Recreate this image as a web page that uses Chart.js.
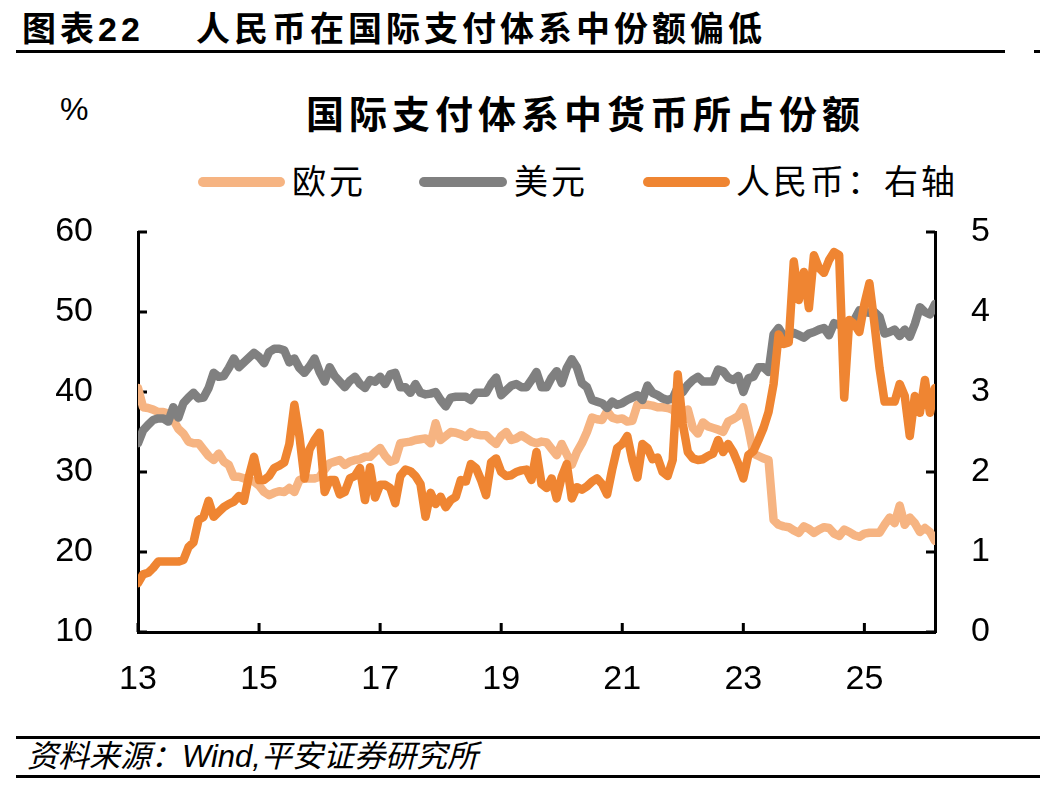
<!DOCTYPE html>
<html>
<head>
<meta charset="utf-8">
<script src="https://cdn.jsdelivr.net/npm/chart.js@4.4.1/dist/chart.umd.min.js"></script>
<style>
  html, body { margin: 0; padding: 0; background: #fff; }
  #wrap { position: relative; width: 1040px; height: 787px; overflow: hidden;
          font-family: "Liberation Sans", "Noto Sans CJK SC", sans-serif; color: #000; }
  #wrap canvas { position: absolute; left: 0; top: 0; }
  .txt { position: absolute; white-space: nowrap; line-height: 1; }
  .rule { position: absolute; height: 3px; background: #000; }
  .key { position: absolute; top: 177px; height: 10px; border-radius: 5px; }
</style>
</head>
<body>
<div id="wrap">
  <div class="txt" style="left:22px;top:12px;font-size:34px;font-weight:bold;letter-spacing:4px;">图表22</div>
  <div class="txt" style="left:196px;top:12px;font-size:34px;font-weight:bold;letter-spacing:4px;">人民币在国际支付体系中份额偏低</div>
  <div class="rule" style="left:16px;top:50px;width:989px;"></div>
  <div class="rule" style="left:1034px;top:50px;width:6px;"></div>

  <div class="txt" style="left:60px;top:93px;font-size:32px;">%</div>
  <div class="txt" style="left:306px;top:96px;font-size:38px;font-weight:bold;letter-spacing:5px;">国际支付体系中货币所占份额</div>

  <div class="key" style="left:198px;width:87px;background:#F6B482;"></div>
  <div class="txt" style="left:292px;top:165px;font-size:34px;letter-spacing:3px;">欧元</div>
  <div class="key" style="left:419px;width:88px;background:#808080;"></div>
  <div class="txt" style="left:514px;top:165px;font-size:34px;letter-spacing:3px;">美元</div>
  <div class="key" style="left:643px;width:87px;background:#EF8532;"></div>
  <div class="txt" style="left:736px;top:165px;font-size:34px;letter-spacing:3px;">人民币：右轴</div>

  <div class="rule" style="left:16px;top:736px;width:1024px;"></div>
  <div class="txt" style="left:27px;top:741px;font-size:31px;font-style:italic;">资料来源：Wind,平安证券研究所</div>
  <div class="rule" style="left:16px;top:775px;width:1024px;"></div>

  <canvas id="c" width="1040" height="787"></canvas>
</div>
<script>
// monthly data, first point = Jan 2013 (year shown as two digits)
const startYear = 13;

const eur = [
  40.5, 38.1, 38.0, 37.8, 37.5, 37.5, 37.3, 36.5, 35.4, 34.8,
  33.8, 33.6, 33.6, 32.8, 32.0, 31.5, 32.3, 31.3, 30.9, 29.4,
  29.4, 29.2, 29.0, 28.8, 28.3, 27.5, 27.1, 27.4, 27.6, 27.5,
  28.0, 27.5, 29.0, 29.2, 29.2, 29.2, 29.4, 30.3, 31.1, 31.3,
  31.5, 30.9, 31.3, 31.5, 31.6, 31.9, 31.9, 32.5, 33.0, 32.0,
  31.3, 31.5, 33.6, 33.7, 33.8, 34.0, 34.1, 34.2, 33.6, 36.1,
  34.0, 34.5, 35.0, 34.9, 34.7, 34.4, 35.0, 34.7, 34.6, 34.6,
  34.0, 33.5, 34.5, 35.0, 34.0, 34.2, 34.6, 34.2, 33.8, 33.6,
  33.8, 33.7, 32.9, 32.1, 33.5, 32.2, 30.9, 32.5, 33.6, 35.0,
  36.8, 36.6, 36.5, 37.6, 36.8, 36.6, 36.7, 36.3, 36.4, 38.4,
  38.4, 38.4, 38.3, 38.1, 38.1, 38.0, 37.8, 37.0, 37.5, 37.8,
  35.5, 34.8, 36.2, 35.7, 35.5, 35.3, 35.0, 36.3, 36.6, 37.0,
  38.1, 35.5, 32.3, 32.0, 31.7, 31.5, 24.0, 23.4, 23.2, 23.1,
  22.7, 22.4, 23.2, 22.9, 22.4, 22.8, 23.1, 23.0, 22.3, 22.0,
  22.8, 22.5, 22.1, 21.9, 22.3, 22.4, 22.4, 22.4, 23.4, 24.3,
  23.6, 25.8, 23.4, 24.3, 23.6, 22.5, 23.0, 22.5, 21.4
];

const usd = [
  33.6, 35.2, 35.9, 36.5, 36.7, 36.7, 36.3, 38.1, 36.8, 38.6,
  39.3, 39.9, 39.2, 39.3, 40.5, 42.4, 41.9, 42.0, 43.0, 44.2,
  43.1, 43.7, 44.3, 44.9, 44.4, 43.6, 45.0, 45.4, 45.4, 45.2,
  43.7, 44.2, 43.0, 42.4, 43.2, 44.2, 42.5, 41.3, 43.1, 42.0,
  41.3, 40.6, 41.4, 41.9, 41.0, 40.5, 41.5, 41.3, 41.9, 41.0,
  42.2, 42.4, 40.6, 40.6, 39.9, 41.0, 39.9, 39.7, 39.8, 40.0,
  39.0, 38.2, 39.3, 39.4, 39.4, 39.4, 39.0, 39.9, 39.9, 39.9,
  41.0, 41.8, 39.6, 40.2, 40.8, 41.0, 40.6, 40.6, 41.5, 42.5,
  40.6, 40.6, 41.8, 42.6, 41.1, 43.0, 44.1, 43.1, 41.1, 40.6,
  39.0, 38.8, 38.6, 38.0, 38.8, 38.4, 38.6, 39.0, 39.3, 39.6,
  39.0, 40.8, 39.9, 39.6, 39.2, 39.0, 39.2, 40.6, 40.0, 40.9,
  41.5, 41.9, 41.3, 41.3, 41.3, 42.8, 42.6, 41.8, 41.5, 42.0,
  40.0, 41.7, 41.9, 43.1, 43.1, 42.5, 47.2, 48.0, 47.0, 47.0,
  47.4, 47.1, 46.8, 47.3, 47.5, 47.8, 48.0, 47.1, 48.6, 48.4,
  48.0, 48.4, 49.0, 50.2, 50.0, 49.9, 50.0, 49.4, 47.3, 47.5,
  47.8, 47.0, 47.8, 46.9, 48.5, 50.6, 50.0, 49.7, 51.0
];

const rmb = [
  0.61, 0.72, 0.74, 0.80, 0.88, 0.88, 0.88, 0.88, 0.88, 0.90,
  1.06, 1.12, 1.40, 1.44, 1.64, 1.44, 1.50, 1.56, 1.60, 1.63,
  1.70, 1.64, 1.95, 2.19, 1.90, 1.90, 1.95, 2.05, 2.08, 2.12,
  2.35, 2.84, 2.45, 1.92, 2.28, 2.40, 2.49, 1.75, 1.90, 1.90,
  1.72, 1.75, 1.92, 1.95, 2.05, 1.65, 2.06, 1.68, 1.84, 1.84,
  1.80, 1.61, 1.95, 2.03, 2.01, 1.95, 1.85, 1.44, 1.74, 1.60,
  1.69, 1.56, 1.65, 1.69, 1.90, 1.88, 2.10, 2.05, 1.90, 1.71,
  2.12, 2.17, 2.00, 1.95, 1.96, 2.00, 2.02, 2.03, 1.90, 2.25,
  1.85, 1.80, 1.92, 1.67, 1.94, 2.10, 1.67, 1.81, 1.78, 1.82,
  1.88, 1.92, 1.85, 1.72, 2.03, 2.30, 2.35, 2.45, 2.15, 1.93,
  2.35, 2.30, 2.16, 2.18, 2.00, 1.95, 2.15, 3.22, 2.60, 2.25,
  2.17, 2.15, 2.16, 2.20, 2.23, 2.40, 2.25, 2.35, 2.25, 2.10,
  1.92, 2.21, 2.26, 2.40, 2.55, 2.75, 3.10, 3.72, 3.60, 3.62,
  4.63, 4.15, 4.50, 4.05, 4.71, 4.55, 4.49, 4.65, 4.75, 4.71,
  2.93, 3.90, 3.85, 3.75, 4.10, 4.36, 3.85, 3.30, 2.88, 2.88,
  2.88, 3.10, 2.95, 2.45, 2.95, 2.74, 3.15, 2.74, 3.05
];

const yearTicks = [13, 15, 17, 19, 21, 23, 25];
const leftTicks = [10, 20, 30, 40, 50, 60];
const rightTicks = [0, 1, 2, 3, 4, 5];

const toPoints = arr => arr.map((v, i) => ({ x: startYear + i / 12, y: v }));
const lastX = startYear + (eur.length - 1) / 12;

// tick marks point into the plot, as in the original
const inwardTicks = {
  id: 'inwardTicks',
  beforeDatasetsDraw(chart) {
    const { ctx, chartArea: a, scales } = chart;
    const len = 9;
    ctx.save();
    ctx.strokeStyle = '#000';
    ctx.lineWidth = 3;
    ctx.beginPath();
    scales.y.ticks.forEach(t => {
      const p = scales.y.getPixelForValue(t.value);
      ctx.moveTo(a.left, p); ctx.lineTo(a.left + len, p);
    });
    scales.y1.ticks.forEach(t => {
      const p = scales.y1.getPixelForValue(t.value);
      ctx.moveTo(a.right - len, p); ctx.lineTo(a.right, p);
    });
    scales.x.ticks.forEach(t => {
      const p = scales.x.getPixelForValue(t.value);
      ctx.moveTo(p, a.bottom); ctx.lineTo(p, a.bottom - len);
    });
    ctx.stroke();
    ctx.restore();
  }
};

const tickFont = { family: 'Liberation Sans', size: 34 };
const lineStyle = { pointRadius: 0, borderWidth: 8.5, borderJoinStyle: 'round', borderCapStyle: 'round', tension: 0 };

new Chart(document.getElementById('c'), {
  type: 'line',
  data: {
    datasets: [
      Object.assign({ label: '欧元', data: toPoints(eur), borderColor: '#F6B482', yAxisID: 'y', order: 3 }, lineStyle),
      Object.assign({ label: '美元', data: toPoints(usd), borderColor: '#808080', yAxisID: 'y', order: 2 }, lineStyle),
      Object.assign({ label: '人民币：右轴', data: toPoints(rmb), borderColor: '#EF8532', yAxisID: 'y1', order: 1 }, lineStyle)
    ]
  },
  options: {
    responsive: false,
    animation: false,
    events: [],
    layout: { padding: { top: 232, left: 0, right: 0, bottom: 0 } },
    plugins: { legend: { display: false }, tooltip: { enabled: false } },
    scales: {
      x: {
        type: 'linear',
        min: startYear,
        max: lastX,
        grid: { display: false, drawTicks: false },
        border: { display: true, color: '#000', width: 3 },
        afterBuildTicks: s => { s.ticks = yearTicks.map(v => ({ value: v })); },
        afterFit: s => { s.height = 155; },
        ticks: { font: tickFont, color: '#000', padding: 27, maxRotation: 0, callback: v => String(v) }
      },
      y: {
        position: 'left',
        min: 10,
        max: 60,
        grid: { display: false, drawTicks: false },
        border: { display: true, color: '#000', width: 3 },
        afterBuildTicks: s => { s.ticks = leftTicks.map(v => ({ value: v })); },
        afterFit: s => { s.width = 138; },
        ticks: { font: tickFont, color: '#000', padding: 45 }
      },
      y1: {
        position: 'right',
        min: 0,
        max: 5,
        grid: { display: false, drawTicks: false },
        border: { display: true, color: '#000', width: 3 },
        afterBuildTicks: s => { s.ticks = rightTicks.map(v => ({ value: v })); },
        afterFit: s => { s.width = 105; },
        ticks: { font: tickFont, color: '#000', padding: 36 }
      }
    }
  },
  plugins: [inwardTicks]
});
</script>
</body>
</html>
